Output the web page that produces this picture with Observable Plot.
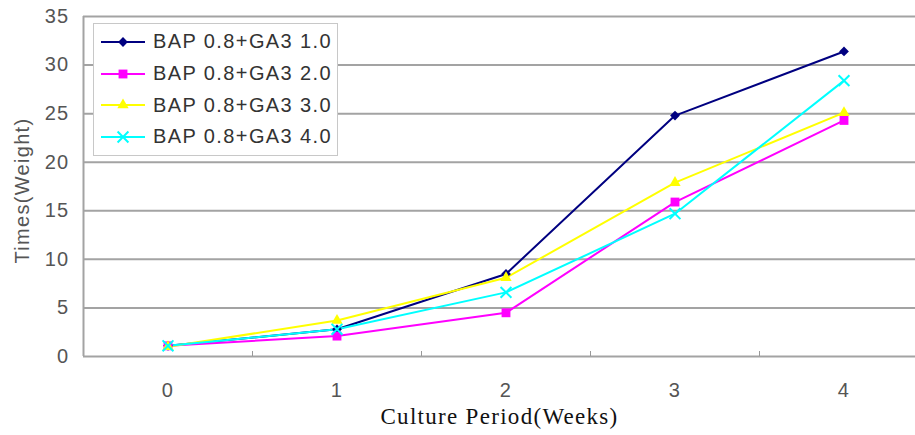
<!DOCTYPE html>
<html>
<head>
<meta charset="utf-8">
<script src="https://cdn.jsdelivr.net/npm/d3@7"></script>
<script src="https://cdn.jsdelivr.net/npm/@observablehq/plot@0.6"></script>
<style>
  html, body { margin: 0; padding: 0; background: #fff; }
  #chart { position: relative; width: 915px; height: 435px; overflow: hidden; }
  .legend {
    position: absolute; left: 93px; top: 23px; width: 245px; height: 133px;
    box-sizing: border-box; border: 1px solid #c8c8c8; background: #fff;
    padding-top: 2px;
    font-family: "Liberation Sans", Arial, sans-serif; font-size: 20px;
    letter-spacing: 1.4px; color: #333;
  }
  .legend .row { display: flex; align-items: center; height: 31.7px; }
  .legend svg { margin-left: 7px; flex: none; }
</style>
</head>
<body>
<div id="chart"></div>
<script>
// Culture period (weeks) on the x axis
const weeks = [0, 1, 2, 3, 4];

// Growth (times of initial weight) for each BAP + GA3 combination
const seriesNames = ["BAP 0.8+GA3 1.0", "BAP 0.8+GA3 2.0", "BAP 0.8+GA3 3.0", "BAP 0.8+GA3 4.0"];
const ga3_10 = [1.1, 2.8, 8.5, 24.8, 31.4];
const ga3_20 = [1.1, 2.1, 4.5, 15.9, 24.3];
const ga3_30 = [1.0, 3.7, 8.1, 17.9, 25.1];
const ga3_40 = [1.1, 2.8, 6.6, 14.7, 28.4];
const seriesValues = [ga3_10, ga3_20, ga3_30, ga3_40];

// Axis ticks
const yTicks = [0, 5, 10, 15, 20, 25, 30, 35];
const categoryBreaks = [0.5, 1.5, 2.5, 3.5];
const xTitle = "Culture Period(Weeks)";
const yTitle = "Times(Weight)";

// Look of each series: colour and marker
const colors = ["#000080", "#ff00ff", "#ffff00", "#00ffff"];
const symbols = ["diamond2", "square", "triangle", "times"];
const markerR = [4.4, 5.0, 4.2, 5.0];

const sans = "'Liberation Sans', Arial, sans-serif";
const serif = "'Liberation Serif', 'Times New Roman', serif";

const rows = seriesNames.flatMap((name, i) =>
  weeks.map((w, j) => ({series: name, week: w, value: seriesValues[i][j]}))
);

const lineMarks = seriesNames.map((name, i) =>
  Plot.line(rows.filter(d => d.series === name), {
    x: "week", y: "value", stroke: colors[i], strokeWidth: 2
  })
);
const dotMarks = seriesNames.map((name, i) => {
  const data = rows.filter(d => d.series === name);
  return symbols[i] === "times"
    ? Plot.dot(data, {x: "week", y: "value", symbol: () => "times", r: markerR[i], stroke: colors[i], strokeWidth: 2, fill: "none"})
    : Plot.dot(data, {x: "week", y: "value", symbol: () => symbols[i], r: markerR[i], fill: colors[i], stroke: "none"});
});

const chart = Plot.plot({
  width: 915,
  height: 435,
  marginLeft: 83,
  marginTop: 16,
  marginBottom: 79,
  marginRight: 0,
  style: {
    fontFamily: sans,
    fontSize: "20px",
    letterSpacing: "1.3px",
    background: "#fff"
  },
  x: {type: "linear", domain: [-0.5, 4.5], range: [83, 928]},
  y: {domain: [0, 35]},
  symbol: {type: "identity"},
  marks: [
    Plot.ruleY(yTicks, {stroke: "#a3a3a3", strokeWidth: 2}),
    Plot.ruleX([-0.5], {stroke: "#a3a3a3", strokeWidth: 2}),
    Plot.axisX(categoryBreaks, {tickSize: -5, stroke: "#999", tickFormat: () => "", label: null}),
    Plot.axisX(weeks, {tickSize: 0, tickPadding: 26, fill: "#555", label: null,
      tickFormat: d3.format("d"), fontSize: 20, fontFamily: sans}),
    Plot.axisY(yTicks, {tickSize: 0, tickPadding: 14, fill: "#555", label: null,
      tickFormat: d3.format("d"), fontSize: 20, fontFamily: sans}),
    ...lineMarks,
    ...dotMarks,
    Plot.text([yTitle], {frameAnchor: "left", textAnchor: "middle", rotate: -90, dx: -61, dy: 4,
      fill: "#555", lineAnchor: "middle", fontSize: 20, fontFamily: sans, ariaLabel: "y-title"}),
    Plot.text([xTitle], {frameAnchor: "bottom", dy: 60.5, fill: "#111", lineAnchor: "middle", fontSize: 23,
      fontFamily: serif, ariaLabel: "x-title"})
  ]
});

// Tick labels use the same 20px sans face as the titles
d3.select(chart).selectAll('g[aria-label$="tick label"]')
  .style("font-size", "20px").style("font-family", sans).style("letter-spacing", "1.3px");
d3.select(chart).selectAll('g[aria-label="x-title"] text')
  .style("letter-spacing", "2.4px").style("word-spacing", "6px");

const root = document.getElementById("chart");
root.appendChild(chart);

// Legend box drawn over the upper-left of the plot area
const legend = d3.select(root).append("div").attr("class", "legend");
seriesNames.forEach((name, i) => {
  const row = legend.append("div").attr("class", "row");
  const sw = row.append("svg").attr("width", 52).attr("height", 20);
  sw.append("line").attr("x1", 0).attr("x2", 44).attr("y1", 10).attr("y2", 10)
    .attr("stroke", colors[i]).attr("stroke-width", 2);
  const symType = {diamond2: d3.symbolDiamond2, square: d3.symbolSquare, triangle: d3.symbolTriangle, times: d3.symbolTimes}[symbols[i]];
  const path = sw.append("path")
    .attr("transform", "translate(22,10)")
    .attr("d", d3.symbol(symType, Math.PI * markerR[i] * markerR[i])());
  if (symbols[i] === "times") path.attr("fill", "none").attr("stroke", colors[i]).attr("stroke-width", 2);
  else path.attr("fill", colors[i]);
  row.append("span").text(name);
});
</script>
</body>
</html>
